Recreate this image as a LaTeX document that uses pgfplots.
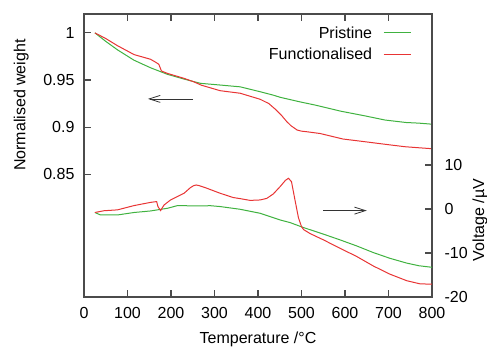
\documentclass[border=0pt]{standalone}
\usepackage{fontspec}
\setmainfont{Liberation Sans}
\usepackage{pgfplots}
\pgfplotsset{compat=1.18}
\usetikzlibrary{arrows.meta}
\definecolor{pgreen}{RGB}{64,178,64}
\definecolor{pred}{RGB}{232,52,52}
\definecolor{axgray}{RGB}{75,75,75}
\newcommand{\fs}{\fontsize{16}{19}\selectfont}
\newcommand{\legline}[1]{\hspace{11pt}\tikz[baseline=0pt]\draw[#1, line width=1pt] (0pt,0.35em) -- (27pt,0.35em);}
\pgfplotsset{
  common/.style={
    scale only axis, width=348pt, height=283pt,
    xmin=0, xmax=800, clip=false,
    tick align=inside, major tick length=7pt,
    axis line style={axgray, line width=1.2pt},
    tick style={axgray, line width=1.1pt},
    tick label style={font=\fs},
    label style={font=\fs},
    /pgf/number format/assume math mode=true,
  }
}
\begin{document}
\begin{tikzpicture}
\useasboundingbox (-84pt,-49pt) rectangle (403pt,297pt);
\begin{axis}[common,
  ymin=0.72, ymax=1.02,
  xtick={0,100,200,300,400,500,600,700,800},
  xticklabels={0,100,200,300,400,500,600,700,800},
  ytick={0.85,0.9,0.95,1},
  yticklabels={0.85,0.9,0.95,1},
  ytick pos=left, xtick pos=both,
  xticklabel shift=7pt, yticklabel shift=6pt,
  xlabel={Temperature /°C},
  xlabel style={at={(axis description cs:0.5,-0.166)}, anchor=base},
  legend style={draw=none, fill=none, font=\fs, row sep=4pt,
    at={(axis description cs:0.955,0.969)}, anchor=north east},
  legend cell align=right, legend plot pos=none,
]
\addplot[pgreen, line width=1pt] coordinates {
(25,1.000) (50,0.991) (77,0.982) (115,0.971) (153,0.963) (192,0.956) (230,0.951)
(268,0.9465) (313,0.9447) (359,0.9428) (405,0.9376) (435,0.934) (451,0.9317) (497,0.9268)
(531,0.9235) (543,0.9222) (590,0.917) (646,0.912) (692,0.9076) (740,0.905) (770,0.9043) (800,0.9032)};
\addlegendentry{Pristine\legline{pgreen}}
\addplot[pred, line width=1pt] coordinates {
(25,1.000) (50,0.994) (77,0.9864) (115,0.977) (153,0.972) (165,0.9688) (172,0.9667)
(178,0.9596) (192,0.957) (230,0.9518) (253,0.948) (270,0.9445) (313,0.9387) (359,0.936)
(405,0.9296) (425,0.925) (440,0.919) (455,0.912) (466,0.906) (476,0.9015) (490,0.897)
(500,0.8958) (512,0.8952) (543,0.8933) (595,0.8875) (646,0.8846) (692,0.8819) (738,0.8793)
(770,0.8782) (800,0.8772)};
\addlegendentry{Functionalised\legline{pred}}
\draw[-{Straight Barb[length=11pt,width=7pt]}, line width=0.8pt, black!80]
  (axis cs:251,0.930) -- (axis cs:147,0.930);
\node[rotate=90, font=\fs] at (rel axis cs:-0.18,0.678) {Normalised weight};
\end{axis}
\begin{axis}[common,
  axis x line=none, axis y line*=right,
  ymin=-20, ymax=44.3,
  ytick={-20,-10,0,10}, yticklabels={-20,-10,0,10},
  yticklabel shift=9pt,
]
\addplot[pgreen, line width=1pt] coordinates {
(25,-0.8) (38,-1.36) (77,-1.36) (115,-0.8) (153,-0.45) (192,0.16) (215,0.77) (268,0.68)
(290,0.75) (313,0.55) (359,-0.07) (405,-0.98) (451,-2.5) (474,-3.1) (504,-4.2) (550,-5.7)
(588,-7.0) (627,-8.4) (665,-9.9) (703,-11.2) (742,-12.3) (770,-12.9) (800,-13.25)};
\addplot[pred, line width=1pt] coordinates {
(25,-0.8) (46,-0.4) (77,-0.2) (115,0.77) (153,1.5) (167,1.68) (170,0.55) (176,-0.36)
(184,0.9) (199,2.05) (230,3.57) (244,4.8) (252,5.3) (258,5.45) (265,5.3) (280,4.8)
(313,3.57) (343,2.6) (359,2.35) (382,1.95) (405,2.05) (420,2.4) (435,3.4) (451,5.1)
(463,6.5) (470,6.98) (477,6.2) (485,2.05)
(493,-2.0) (500,-4.0) (505,-4.7) (520,-5.6) (550,-7.0) (588,-8.9) (627,-10.8) (665,-12.95)
(703,-14.8) (742,-16.3) (772,-17.0) (800,-17.1)};
\draw[-{Straight Barb[length=11pt,width=7pt]}, line width=0.8pt, black!80]
  (axis cs:550,-0.37) -- (axis cs:650,-0.37);
\node[rotate=90, font=\fs] at (rel axis cs:1.138,0.272) {Voltage /µV};
\end{axis}
\end{tikzpicture}
\end{document}
